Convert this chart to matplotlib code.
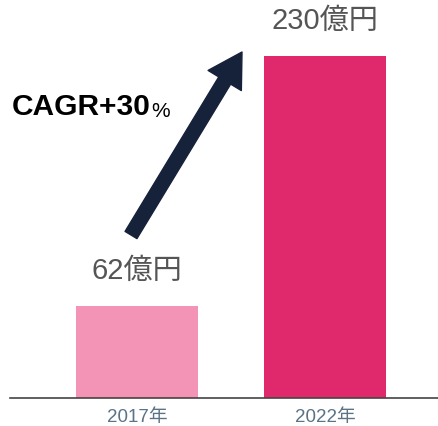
import matplotlib
matplotlib.use('Agg')
from matplotlib import pyplot as plt

# data
years = ['2017年', '2022年']
sales = [62, 230]  # 億円
bar_colors = ['#f393b6', '#e0286c']
value_labels = ['62億円', '230億円']
cagr_text = 'CAGR+30'

mix_fonts = ['Liberation Sans', 'Noto Sans CJK JP', 'DejaVu Sans']
plt.rcParams['font.family'] = mix_fonts

fig = plt.figure(figsize=(4.38, 4.27), dpi=100)
ax = fig.add_axes([10 / 438, 28 / 427, 428 / 438, 399 / 427])

x = list(range(len(years)))
ax.bar(x, sales, width=0.649, color=bar_colors)
ax.set_xlim(-0.6755, 1.601)
ax.set_ylim(0, 268.3)

# value labels above the bars
for xi, v, lab in zip(x, sales, value_labels):
    ax.annotate(lab, xy=(xi, v), xytext=(0, 16), textcoords='offset points',
                ha='center', va='bottom', fontsize=21, color='#555555')

ax.set_xticks(x)
ax.set_xticklabels(years, fontsize=13.5, color='#5b7385')
ax.tick_params(axis='x', length=0, pad=7)
ax.set_yticks([])
for s in ['top', 'right', 'left']:
    ax.spines[s].set_visible(False)
ax.spines['bottom'].set_color('#444444')
ax.spines['bottom'].set_linewidth(1.2)

# growth arrow
ax.annotate('', xy=(242, 374), xycoords='figure pixels',
            xytext=(131, 191), textcoords='figure pixels',
            arrowprops=dict(arrowstyle='simple,head_length=1.2,head_width=1.4,tail_width=0.5',
                            mutation_scale=20, color='#16213a', shrinkA=0, shrinkB=0))

t = fig.text(12 / 438, (427 - 115) / 427, cagr_text, fontsize=21.5, fontweight='bold',
             color='black', ha='left', va='baseline')
ax.annotate('%', xy=(1, 0), xycoords=t, xytext=(0, 0), textcoords='offset points',
            fontsize=15, color='black', ha='left', va='bottom')

fig.savefig('out.png', dpi=100)
